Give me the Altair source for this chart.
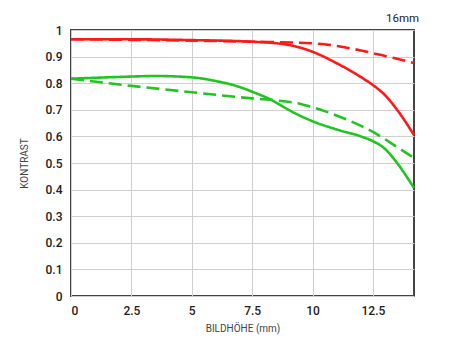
import altair as alt
import pandas as pd

# Data
red_solid_x = [0, 2.5, 5, 7.5, 9, 10, 11, 12, 12.5, 13, 13.5, 14.2]
red_solid_y = [0.965, 0.965, 0.962, 0.956, 0.944, 0.918, 0.875, 0.823, 0.793, 0.755, 0.70, 0.605]

red_dash_x = [0, 2.5, 5, 7.5, 10, 11, 12, 12.5, 13, 13.5, 14.2]
red_dash_y = [0.965, 0.963, 0.960, 0.956, 0.950, 0.940, 0.923, 0.913, 0.902, 0.892, 0.876]

green_solid_x = [0, 1.5, 2.5, 3.5, 5, 6, 7, 7.5, 8.3, 9, 10, 11, 12, 12.5, 13, 13.5, 14.2]
green_solid_y = [0.817, 0.822, 0.825, 0.827, 0.822, 0.808, 0.785, 0.768, 0.737, 0.700, 0.657, 0.626, 0.600, 0.582, 0.553, 0.500, 0.406]

green_dash_x = [0, 2.5, 5, 7.5, 8.3, 9.5, 10.5, 11.5, 12.5, 13.5, 14.2]
green_dash_y = [0.817, 0.790, 0.766, 0.743, 0.737, 0.722, 0.695, 0.660, 0.617, 0.560, 0.519]

series_names = ["red_solid", "red_dash", "green_solid", "green_dash"]
series_colors = ["#ff1a1a", "#ff1a1a", "#22c422", "#22c422"]
series_dash = ["solid", "dash", "solid", "dash"]

x_ticks = [0, 2.5, 5, 7.5, 10, 12.5]
y_ticks = [0, 0.1, 0.2, 0.3, 0.4, 0.5, 0.6, 0.7, 0.8, 0.9, 1]

rows = []
for name, xs, ys, d in [
    ("red_solid", red_solid_x, red_solid_y, "solid"),
    ("red_dash", red_dash_x, red_dash_y, "dash"),
    ("green_solid", green_solid_x, green_solid_y, "solid"),
    ("green_dash", green_dash_x, green_dash_y, "dash"),
]:
    for i, (x, y) in enumerate(zip(xs, ys)):
        rows.append({"x": x, "y": y, "series": name, "dash": d, "order": i})
df = pd.DataFrame(rows)

chart = alt.Chart(df).mark_line(strokeWidth=2.6, interpolate="monotone", clip=False).encode(
    x=alt.X("x:Q", scale=alt.Scale(domain=[0, 14.2], nice=False, zero=False),
            axis=alt.Axis(values=x_ticks, title="BILDHÖHE (mm)", labelExpr="'' + datum.value")),
    y=alt.Y("y:Q", scale=alt.Scale(domain=[0, 1], nice=False),
            axis=alt.Axis(values=y_ticks, title="KONTRAST", labelExpr="'' + datum.value")),
    color=alt.Color("series:N", scale=alt.Scale(domain=series_names, range=series_colors), legend=None),
    strokeDash=alt.StrokeDash("dash:N", scale=alt.Scale(domain=["solid", "dash"], range=[[1, 0], [13, 6]]), legend=None),
    order="order:Q",
    detail="series:N",
).properties(
    width=343,
    height=266,
    autosize=alt.AutoSizeParams(type="none"),
    padding={"left": 63, "top": 22, "right": 20, "bottom": 46},
    title=alt.TitleParams("16mm", anchor="end", fontSize=11.5, fontWeight="normal", color="#222",
                          font="Roboto", offset=0),
).configure_axis(
    grid=True,
    gridColor="#cfcfcf",
    gridWidth=1,
    domain=False,
    ticks=False,
    labelFont="Roboto",
    labelFontSize=12,
    labelFontWeight=500,
    labelColor="#222",
    labelPadding=9,
    titleFont="Roboto",
    titleFontSize=10,
    titleFontWeight="normal",
    titleColor="#444",
).configure_axisY(
    titlePadding=16,
).configure_axisX(
    titlePadding=7,
).configure_view(
    stroke="#444",
    strokeWidth=2,
)

chart.save("out.html", embed_options={"renderer": "svg", "actions": False})
